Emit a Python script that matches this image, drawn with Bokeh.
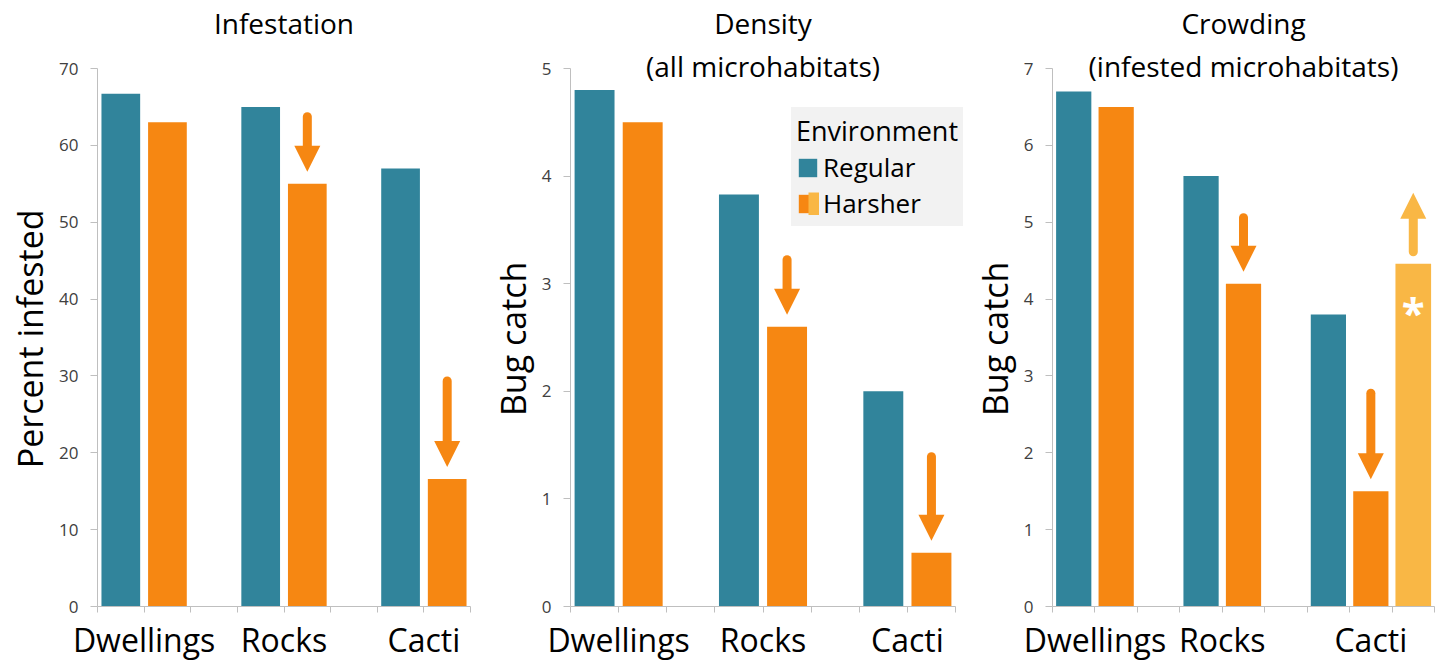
from bokeh.plotting import figure
from bokeh.models import (Range1d, FixedTicker, Arrow, NormalHead, Legend,
                          LegendItem)
from bokeh.layouts import row
from bokeh.embed import file_html
from bokeh.resources import INLINE
from bokeh.core.properties import value

# ---------------- data ----------------
categories = ["Dwellings", "Rocks", "Cacti"]

infest_regular = [66.7, 65.0, 57.0]
infest_harsher = [63.0, 55.0, 16.6]

density_regular = [4.8, 3.83, 2.0]
density_harsher = [4.5, 2.6, 0.5]

crowd_regular = [6.7, 5.6, 3.8]
crowd_harsher = [6.5, 4.2, 1.5]
crowd_cacti_alt = [4.46]          # alternative harsher estimate for cacti (*)

infest_ticks = [0, 10, 20, 30, 40, 50, 60, 70]
density_ticks = [0, 1, 2, 3, 4, 5]
crowd_ticks = [0, 1, 2, 3, 4, 5, 6, 7]

# arrows: (category index, arrow length in px) drawn above harsher bars
infest_arrows = [(1, 55), (2, 86)]
density_arrows = [(1, 55), (2, 84)]
crowd_arrows = [(1, 54), (2, 86)]
crowd_up_arrow = [(0, 59)]

# ---------------- style ----------------
FONT = "Open Sans"
TEAL = "#31849B"
ORANGE = "#F68712"
LIGHT = "#F9B745"
AXIS = "#BFBFBF"
H = 663
BOTTOM = 57
AXIS_TOP = 68                     # px from top where the top tick sits
FRAME_H = H - BOTTOM              # frame spans from canvas top to x axis
AXIS_H = FRAME_H - AXIS_TOP       # px used by the value axis
ARROW_GAP = 12
HEAD = 26
PAD = "\u00a0" * 8                # re-centres the axis title on the value axis


def make_panel(width, left, right, ymax, yticks, ylabel, nslots, xend, reg, har,
               titles, cat_ticks):
    ext = ymax * FRAME_H / AXIS_H
    p = figure(width=width, height=H, x_range=Range1d(0, xend),
               y_range=Range1d(0, ext), output_backend="svg",
               toolbar_location=None, min_border_left=left,
               min_border_right=right, min_border_top=0,
               min_border_bottom=BOTTOM)
    p.title.visible = False
    p.outline_line_color = None
    p.grid.visible = False
    p.background_fill_color = "white"
    p.border_fill_color = "white"

    # y axis
    ya = p.yaxis[0]
    ya.bounds = (0, ymax)
    ya.ticker = FixedTicker(ticks=yticks)
    ya.axis_label = ylabel + PAD
    ya.axis_label_text_font = FONT
    ya.axis_label_text_font_size = "34px"
    ya.axis_label_text_font_style = "normal"
    ya.axis_label_text_color = "black"
    ya.axis_label_standoff = 3
    ya.major_label_text_font = FONT
    ya.major_label_text_font_size = "17px"
    ya.major_label_text_color = "#404040"
    ya.major_label_standoff = 12
    ya.major_tick_out = 7
    ya.major_tick_in = 0
    ya.minor_tick_out = 0
    ya.minor_tick_in = 0
    ya.axis_line_color = AXIS
    ya.major_tick_line_color = AXIS

    # x axis
    xa = p.xaxis[0]
    xa.bounds = (0, nslots)
    xa.ticker = FixedTicker(ticks=cat_ticks, minor_ticks=list(range(nslots + 1)))
    xa.major_label_overrides = {t: c for t, c in zip(cat_ticks, categories)}
    xa.major_label_text_font = FONT
    xa.major_label_text_font_size = "32px"
    xa.major_label_text_color = "black"
    xa.major_label_standoff = 5
    xa.major_tick_out = 0
    xa.major_tick_in = 0
    xa.minor_tick_out = 6
    xa.minor_tick_in = 0
    xa.axis_line_color = AXIS
    xa.minor_tick_line_color = AXIS

    xs_reg = [3 * i + 0.5 for i in range(len(categories))]
    xs_har = [3 * i + 1.5 for i in range(len(categories))]
    r_reg = p.vbar(x=xs_reg, top=reg, width=0.83, bottom=0,
                   fill_color=TEAL, line_color=None)
    r_har = p.vbar(x=xs_har, top=har, width=0.83, bottom=0,
                   fill_color=ORANGE, line_color=None)

    ppu = AXIS_H / ymax
    for text, px_from_top in titles:
        p.text(x=[nslots / 2], y=[ymax + (AXIS_TOP - px_from_top) / ppu],
               text=[text], text_align="center", text_baseline="middle",
               text_font=value(FONT), text_font_size="28px", text_color="black")
    return p, r_reg, r_har, xs_har


def add_arrows(p, arrows, xs, vals, ymax, color, up=False):
    ppu = AXIS_H / ymax
    sgn = -1 if up else 1
    for i, length in arrows:
        v = vals[i]
        tip = v + sgn * -1 * ARROW_GAP / ppu if up else v + ARROW_GAP / ppu
        if up:
            tip = v + (ARROW_GAP + length) / ppu
            start = v + ARROW_GAP / ppu
            base = tip - 0.6 * HEAD / ppu
        else:
            tip = v + ARROW_GAP / ppu
            start = v + (ARROW_GAP + length) / ppu
            base = tip + 0.6 * HEAD / ppu
        p.segment(x0=[xs[i]], y0=[start], x1=[xs[i]], y1=[base],
                  line_color=color, line_width=9, line_cap="round")
        p.add_layout(Arrow(end=NormalHead(size=HEAD, fill_color=color,
                                          line_color=None),
                           x_start=xs[i], y_start=base, x_end=xs[i], y_end=tip,
                           line_alpha=0))


# Panel 1
p1, _, _, xh1 = make_panel(486, 97, 16, 70, infest_ticks, "Percent infested", 8, 8,
                           infest_regular, infest_harsher,
                           [("Infestation", 22)], [1, 4, 7])
add_arrows(p1, infest_arrows, xh1, infest_harsher, 70, ORANGE)

# Panel 2 (frame extends a little to the right to hold the legend)
p2, r_reg2, r_har2, xh2 = make_panel(482, 84, 0, 5, density_ticks, "Bug catch", 8,
                                     8 * 398 / 385,
                                     density_regular, density_harsher,
                                     [("Density", 22), ("(all microhabitats)", 65)],
                                     [1, 4, 7])
add_arrows(p2, density_arrows, xh2, density_harsher, 5, ORANGE)
half = p2.line(x=[float("nan")], y=[float("nan")], line_color=LIGHT,
               line_width=23, line_dash="0 12 11 0")
legend = Legend(items=[LegendItem(label="Regular", renderers=[r_reg2]),
                       LegendItem(label="Harsher", renderers=[r_har2, half])],
                title="Environment", location=(221, 380),
                background_fill_color="#F2F2F2", background_fill_alpha=1.0,
                border_line_alpha=0, padding=5, margin=0, spacing=0,
                glyph_width=23, glyph_height=23, label_standoff=4,
                title_standoff=0,
                label_text_font=FONT, label_text_font_size="26px",
                title_text_font=FONT, title_text_font_size="27px",
                title_text_font_style="normal", title_text_color="black",
                label_text_color="black")
p2.add_layout(legend)

# Panel 3
p3, _, _, xh3 = make_panel(471, 80, 5, 7, crowd_ticks, "Bug catch", 9, 9,
                           crowd_regular, crowd_harsher,
                           [("Crowding", 22), ("(infested microhabitats)", 65)],
                           [1, 4, 7.5])
add_arrows(p3, crowd_arrows, xh3, crowd_harsher, 7, ORANGE)
x_alt = [8.5]
p3.vbar(x=x_alt, top=crowd_cacti_alt, width=0.84, bottom=0,
        fill_color=LIGHT, line_color=None)
add_arrows(p3, crowd_up_arrow, x_alt, crowd_cacti_alt, 7, LIGHT, up=True)
p3.text(x=x_alt, y=[crowd_cacti_alt[0] - 0.62], text=["*"], text_color="white",
        text_align="center", text_baseline="middle", text_font=value(FONT),
        text_font_size="42px", text_font_style="bold")

layout = row(p1, p2, p3)
open("out.html", "w").write(file_html(layout, INLINE))
